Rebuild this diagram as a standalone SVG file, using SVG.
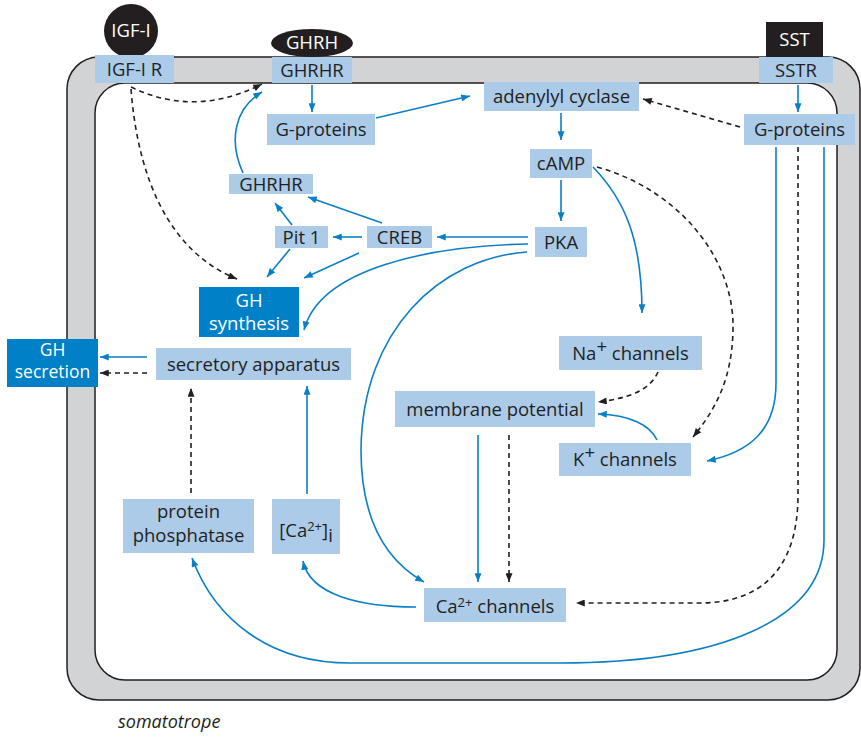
<svg xmlns="http://www.w3.org/2000/svg" width="861" height="737" viewBox="0 0 861 737">
<defs>
<marker id="ab" viewBox="0 0 10 8" refX="10" refY="4" markerWidth="10" markerHeight="7" markerUnits="userSpaceOnUse" orient="auto">
<path d="M0,0 L10,4 L0,8 z" fill="#0a7fc6"/>
</marker>
<marker id="ak" viewBox="0 0 10 8" refX="10" refY="4" markerWidth="10" markerHeight="7" markerUnits="userSpaceOnUse" orient="auto">
<path d="M0,0 L10,4 L0,8 z" fill="#231f20"/>
</marker>
<style>
.n{fill:#abcbe9}
.d{fill:#0080c6}
.k{fill:#231f20}
.t{font-family:"Open Sans","Liberation Sans",sans-serif;font-size:18.5px;fill:#231f20;text-anchor:middle}
.w{fill:#ffffff}
.b{fill:none;stroke:#0a7fc6;stroke-width:1.6;marker-end:url(#ab)}
.k2{fill:none;stroke:#231f20;stroke-width:1.6;stroke-dasharray:5 4;marker-end:url(#ak)}
.sup{font-size:13px}
.s2{font-size:17.5px}
</style>
</defs>
<g id="cell">
<rect x="67" y="57" width="793" height="643" rx="32" fill="#d1d3d4" stroke="#231f20" stroke-width="1.5"/>
<rect x="95" y="83" width="742" height="597" rx="30" fill="#ffffff" stroke="#231f20" stroke-width="1.5"/>
</g>
<g id="connectors">
<path class="b" d="M312,85 L312,112"/>
<path class="b" d="M376,118 L470,96"/>
<path class="k2" d="M131,87 Q195,118 262,84"/>
<path class="k2" d="M131,89 C138,180 170,252 237,279"/>
<path class="b" d="M243,173 C228,140 235,108 262,92"/>
<path class="b" d="M382,223 L308,197"/>
<path class="b" d="M292,225 L275,203"/>
<path class="b" d="M362,237 L333,237"/>
<path class="b" d="M528,237 L437,237"/>
<path class="b" d="M290,249 L267,277"/>
<path class="b" d="M359,253 L304,278"/>
<path class="b" d="M528,244 C430,246 320,268 304,330"/>
<path class="b" d="M527,252 C440,258 362,330 361,450 C361,520 385,560 424,582"/>
<path class="b" d="M561,180 L561,221"/>
<path class="b" d="M561,113 L561,140"/>
<path class="b" d="M593,167 C625,200 642,240 642,313"/>
<path class="k2" d="M597,167 C680,190 735,260 733,330 C732,380 715,410 693,437"/>
<path class="k2" d="M658,372 C650,390 630,398 598,402"/>
<path class="b" d="M657,440 C650,425 630,415 598,414"/>
<path class="b" d="M478,435 L478,582"/>
<path class="k2" d="M509,435 L509,582"/>
<path class="b" d="M776,147 L776,383 C776,430 750,452 707,461"/>
<path class="k2" d="M798,147 L798,495 C798,570 760,603 700,603 L576,603"/>
<path class="b" d="M824,147 L824,540 C824,620 720,663 560,663 L350,663 C270,663 215,620 192,558"/>
<path class="b" d="M416,607 C360,607 310,595 303,561"/>
<path class="b" d="M307,494 L307,386"/>
<path class="k2" d="M191,493 L191,388"/>
<path class="b" d="M147,357 L100,357"/>
<path class="k2" d="M147,373 L100,373"/>
<path class="k2" d="M740,127 L643,99"/>
<path class="b" d="M798,85 L798,112"/>
</g>
<g id="igf1">
<circle cx="131" cy="31" r="27" class="k"/>
<text class="t w" x="131" y="37">IGF-I</text>
</g>
<g id="ghrh">
<ellipse cx="312" cy="43" rx="41" ry="14" class="k"/>
<text class="t w" x="312" y="49">GHRH</text>
</g>
<g id="sst">
<rect x="766" y="22" width="57" height="35" class="k"/>
<text class="t w" x="794.5" y="46">SST</text>
</g>
<g id="igf1r">
<rect x="95" y="55" width="79" height="28" class="n"/>
<text class="t" x="134.5" y="76">IGF-I R</text>
</g>
<g id="ghrhr-top">
<rect x="272" y="57" width="80" height="26" class="n"/>
<text class="t" x="312" y="77">GHRHR</text>
</g>
<g id="sstr">
<rect x="759" y="57" width="74" height="26" class="n"/>
<text class="t" x="796" y="77">SSTR</text>
</g>
<g id="gproteins-left">
<rect x="267" y="114" width="108" height="31" class="n"/>
<text class="t" x="321" y="136">G-proteins</text>
</g>
<g id="adenylyl-cyclase">
<rect x="484" y="82" width="155" height="29" class="n"/>
<text class="t" x="561.5" y="103">adenylyl cyclase</text>
</g>
<g id="gproteins-right">
<rect x="744" y="114" width="111" height="31" class="n"/>
<text class="t" x="799.5" y="136">G-proteins</text>
</g>
<g id="camp">
<rect x="530" y="149" width="62" height="29" class="n"/>
<text class="t" x="561" y="170">cAMP</text>
</g>
<g id="ghrhr-mid">
<rect x="229" y="174" width="84" height="20" class="n"/>
<text class="t" x="271" y="191">GHRHR</text>
</g>
<g id="pit1">
<rect x="275" y="226" width="53" height="22" class="n"/>
<text class="t" x="301.5" y="244">Pit 1</text>
</g>
<g id="creb">
<rect x="367" y="226" width="65" height="22" class="n"/>
<text class="t" x="399.5" y="244">CREB</text>
</g>
<g id="pka">
<rect x="535" y="227" width="52" height="30" class="n"/>
<text class="t" x="561" y="249">PKA</text>
</g>
<g id="gh-synthesis">
<rect x="199" y="287" width="100" height="50" class="d"/>
<text class="t w" x="249" y="307">GH</text>
<text class="t w" x="249" y="330">synthesis</text>
</g>
<g id="gh-secretion">
<rect x="7" y="339" width="91" height="48" class="d"/>
<text class="t w s2" x="52.5" y="356">GH</text>
<text class="t w s2" x="52.5" y="378">secretion</text>
</g>
<g id="secretory-apparatus">
<rect x="156" y="348" width="195" height="32" class="n"/>
<text class="t" x="253.5" y="371">secretory apparatus</text>
</g>
<g id="na-channels">
<rect x="559" y="336" width="143" height="34" class="n"/>
<text class="t" x="630.5" y="360">Na<tspan dy="-7">+</tspan><tspan dy="7"> channels</tspan></text>
</g>
<g id="membrane-potential">
<rect x="395" y="391" width="200" height="36" class="n"/>
<text class="t" x="495" y="416">membrane potential</text>
</g>
<g id="k-channels">
<rect x="559" y="443" width="132" height="33" class="n"/>
<text class="t" x="625" y="466">K<tspan dy="-7">+</tspan><tspan dy="7"> channels</tspan></text>
</g>
<g id="protein-phosphatase">
<rect x="123" y="499" width="131" height="54" class="n"/>
<text class="t" x="188.5" y="518">protein</text>
<text class="t" x="188.5" y="542">phosphatase</text>
</g>
<g id="ca-i">
<rect x="272" y="499" width="68" height="55" class="n"/>
<text class="t" x="306" y="537">[Ca<tspan class="sup" dy="-6">2+</tspan><tspan dy="6">]</tspan><tspan dy="5">i</tspan></text>
</g>
<g id="ca-channels">
<rect x="424" y="588" width="142" height="34" class="n"/>
<text class="t" x="495" y="613">Ca<tspan class="sup" dy="-6">2+</tspan><tspan dy="6"> channels</tspan></text>
</g>
<text x="118" y="728" style="font-family:'Open Sans','Liberation Sans',sans-serif;font-size:18px;font-style:italic;fill:#231f20">somatotrope</text>
</svg>
